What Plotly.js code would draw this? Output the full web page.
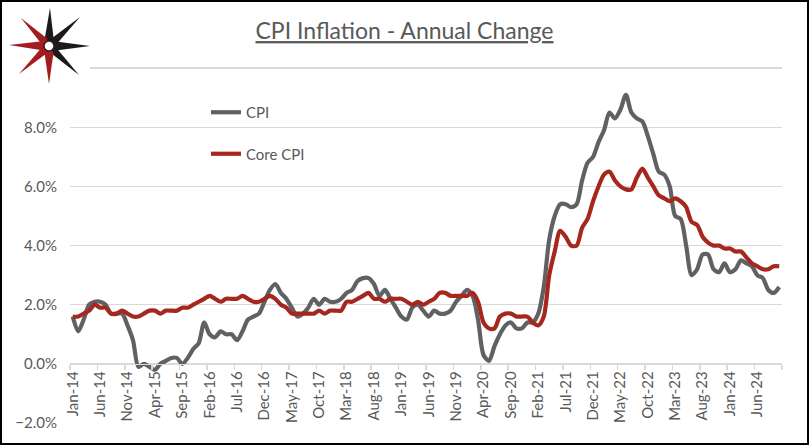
<!DOCTYPE html>
<html>
<head>
<meta charset="utf-8">
<script src="https://cdn.plot.ly/plotly-3.0.1.min.js"></script>
<style>
  html, body { margin: 0; padding: 0; background: #ffffff; }
  #chart { width: 809px; height: 445px; }
</style>
</head>
<body>
<div id="chart"></div>
<script>
// ---- Data (US CPI, year-over-year %, monthly Jan-2014 .. Oct-2024) ----
const startYear = 2014;
const monthNames = ["Jan","Feb","Mar","Apr","May","Jun","Jul","Aug","Sep","Oct","Nov","Dec"];

const cpi2014 = [1.6, 1.1, 1.5, 2.0, 2.1, 2.1, 2.0, 1.7, 1.7, 1.7, 1.3, 0.8];
const cpi2015 = [-0.1, 0.0, -0.1, -0.2, 0.0, 0.1, 0.2, 0.2, 0.0, 0.2, 0.5, 0.7];
const cpi2016 = [1.4, 1.0, 0.9, 1.1, 1.0, 1.0, 0.8, 1.1, 1.5, 1.6, 1.7, 2.1];
const cpi2017 = [2.5, 2.7, 2.4, 2.2, 1.9, 1.6, 1.7, 1.9, 2.2, 2.0, 2.2, 2.1];
const cpi2018 = [2.1, 2.2, 2.4, 2.5, 2.8, 2.9, 2.9, 2.7, 2.3, 2.5, 2.2, 1.9];
const cpi2019 = [1.6, 1.5, 1.9, 2.0, 1.8, 1.6, 1.8, 1.7, 1.7, 1.8, 2.1, 2.3];
const cpi2020 = [2.5, 2.3, 1.5, 0.3, 0.1, 0.6, 1.0, 1.3, 1.4, 1.2, 1.2, 1.4];
const cpi2021 = [1.4, 1.7, 2.6, 4.2, 5.0, 5.4, 5.4, 5.3, 5.4, 6.2, 6.8, 7.0];
const cpi2022 = [7.5, 7.9, 8.5, 8.3, 8.6, 9.1, 8.5, 8.3, 8.2, 7.7, 7.1, 6.5];
const cpi2023 = [6.4, 6.0, 5.0, 4.9, 4.0, 3.0, 3.2, 3.7, 3.7, 3.2, 3.1, 3.4];
const cpi2024 = [3.1, 3.2, 3.5, 3.4, 3.3, 3.0, 2.9, 2.5, 2.4, 2.6];

const core2014 = [1.6, 1.6, 1.7, 1.8, 2.0, 1.9, 1.9, 1.7, 1.7, 1.8, 1.7, 1.6];
const core2015 = [1.6, 1.7, 1.8, 1.8, 1.7, 1.8, 1.8, 1.8, 1.9, 1.9, 2.0, 2.1];
const core2016 = [2.2, 2.3, 2.2, 2.1, 2.2, 2.2, 2.2, 2.3, 2.2, 2.1, 2.1, 2.2];
const core2017 = [2.3, 2.2, 2.0, 1.9, 1.7, 1.7, 1.7, 1.7, 1.7, 1.8, 1.7, 1.8];
const core2018 = [1.8, 1.8, 2.1, 2.1, 2.2, 2.3, 2.4, 2.2, 2.2, 2.1, 2.2, 2.2];
const core2019 = [2.2, 2.1, 2.0, 2.1, 2.0, 2.1, 2.2, 2.4, 2.4, 2.3, 2.3, 2.3];
const core2020 = [2.3, 2.4, 2.1, 1.4, 1.2, 1.2, 1.6, 1.7, 1.7, 1.6, 1.6, 1.6];
const core2021 = [1.4, 1.3, 1.6, 3.0, 3.8, 4.5, 4.3, 4.0, 4.0, 4.6, 4.9, 5.5];
const core2022 = [6.0, 6.4, 6.5, 6.2, 6.0, 5.9, 5.9, 6.3, 6.6, 6.3, 6.0, 5.7];
const core2023 = [5.6, 5.5, 5.6, 5.5, 5.3, 4.8, 4.7, 4.3, 4.1, 4.0, 4.0, 3.9];
const core2024 = [3.9, 3.8, 3.8, 3.6, 3.4, 3.3, 3.2, 3.2, 3.3, 3.3];

const cpi = [].concat(cpi2014, cpi2015, cpi2016, cpi2017, cpi2018, cpi2019,
                      cpi2020, cpi2021, cpi2022, cpi2023, cpi2024);
const core = [].concat(core2014, core2015, core2016, core2017, core2018, core2019,
                       core2020, core2021, core2022, core2023, core2024);

// category labels "Jan-14", "Feb-14", ...
const months = cpi.map((_, i) =>
  monthNames[i % 12] + "-" + String((startYear + Math.floor(i / 12)) % 100).padStart(2, "0"));

// ---- Layout geometry ----
const W = 809, H = 445;
const M = { l: 70, r: 27, t: 80, b: 22 };
const PW = W - M.l - M.r, PH = H - M.t - M.b;
const yMin = -2, yMax = 9.6;
const px2x = p => (p - M.l) / PW;
const py2y = p => 1 - (p - M.t) / PH;

const grey = "#595959";
const gridC = "#d9d9d9";

// ---- Logo (compass star) as shapes ----
const logoC = [49, 46];
const spikes = [
  { tip: [50, 8],  w: 4.5, color: "#1b1b1b" },
  { tip: [80, 17], w: 3.8, color: "#1b1b1b" },
  { tip: [90, 46], w: 4.5, color: "#1b1b1b" },
  { tip: [79, 75], w: 3.8, color: "#1b1b1b" },
  { tip: [49, 84], w: 4.5, color: "#a31d20" },
  { tip: [19, 74], w: 3.8, color: "#a31d20" },
  { tip: [9, 45],  w: 4.5, color: "#a31d20" },
  { tip: [21, 18], w: 3.8, color: "#a31d20" }
];
function pt(p) { return px2x(p[0]).toFixed(5) + "," + py2y(p[1]).toFixed(5); }
const logoShapes = spikes.map(s => {
  const dx = s.tip[0] - logoC[0], dy = s.tip[1] - logoC[1];
  const L = Math.hypot(dx, dy), ux = dx / L, uy = dy / L;
  const d = 7;
  const a = [logoC[0] + ux * d - uy * s.w, logoC[1] + uy * d + ux * s.w];
  const b = [logoC[0] + ux * d + uy * s.w, logoC[1] + uy * d - ux * s.w];
  return {
    type: "path", xref: "paper", yref: "paper", layer: "above",
    path: "M" + pt(logoC) + " L" + pt(a) + " L" + pt(s.tip) + " L" + pt(b) + " Z",
    fillcolor: s.color, line: { width: 0 }
  };
});
logoShapes.push({
  type: "circle", xref: "paper", yref: "paper", layer: "above",
  x0: px2x(logoC[0] - 5), x1: px2x(logoC[0] + 5),
  y0: py2y(logoC[1] + 5), y1: py2y(logoC[1] - 5),
  fillcolor: "#ffffff", line: { color: "#3a1a1a", width: 1.5 }
});

const shapes = [
  // outer frame
  { type: "rect", xref: "paper", yref: "paper", layer: "above",
    x0: px2x(1), x1: px2x(808), y0: py2y(444), y1: py2y(1),
    line: { color: "#000000", width: 2 }, fillcolor: "rgba(0,0,0,0)" },
  // separator under the title
  { type: "line", xref: "paper", yref: "paper",
    x0: px2x(90), x1: px2x(782), y0: py2y(68), y1: py2y(68),
    line: { color: gridC, width: 2 } }
].concat(logoShapes);

const traces = [
  { type: "scatter", mode: "lines", name: "CPI", x: months, y: cpi,
    legendgroup: "a",
    line: { color: "#606164", width: 4.2, shape: "spline", smoothing: 0.8 } },
  { type: "scatter", mode: "lines", name: "Core CPI", x: months, y: core,
    legendgroup: "b",
    line: { color: "#a5271d", width: 4.2, shape: "spline", smoothing: 0.8 } }
];

const layout = {
  width: W, height: H,
  margin: M,
  paper_bgcolor: "#ffffff", plot_bgcolor: "#ffffff",
  font: { family: "Lato, 'Open Sans', sans-serif", color: grey },
  title: {
    text: "<u>CPI Inflation - Annual Change</u>",
    font: { family: "Lato, sans-serif", size: 23, color: grey },
    x: 0.5, xref: "container", xanchor: "center",
    y: 1 - 31 / H, yref: "container", yanchor: "middle"
  },
  showlegend: true,
  legend: {
    x: px2x(206), xanchor: "left", y: py2y(96), yanchor: "top",
    bgcolor: "rgba(0,0,0,0)", borderwidth: 0,
    traceorder: "grouped", tracegroupgap: 19,
    font: { size: 15, color: grey }
  },
  xaxis: {
    type: "category",
    range: [-0.5, months.length - 0.5],
    anchor: "free", position: (0 - yMin) / (yMax - yMin),
    tickmode: "linear", tick0: 0, dtick: 5,
    tickson: "boundaries",
    ticks: "outside", ticklen: 5, tickcolor: gridC, tickwidth: 1.5,
    showline: true, linecolor: gridC, linewidth: 1.5,
    showgrid: false, zeroline: false,
    tickangle: -90,
    tickfont: { size: 15, color: grey },
    fixedrange: true
  },
  yaxis: {
    range: [yMin, yMax],
    tickmode: "linear", tick0: 0, dtick: 2,
    tickformat: ".1f", ticksuffix: "%",
    showgrid: true, gridcolor: gridC, gridwidth: 1.5,
    zeroline: false, showline: false,
    ticks: "", ticklabelstandoff: 12,
    tickfont: { size: 15, color: grey },
    fixedrange: true
  },
  shapes: shapes
};

Plotly.newPlot("chart", traces, layout, { displayModeBar: false, staticPlot: true });
</script>
</body>
</html>
